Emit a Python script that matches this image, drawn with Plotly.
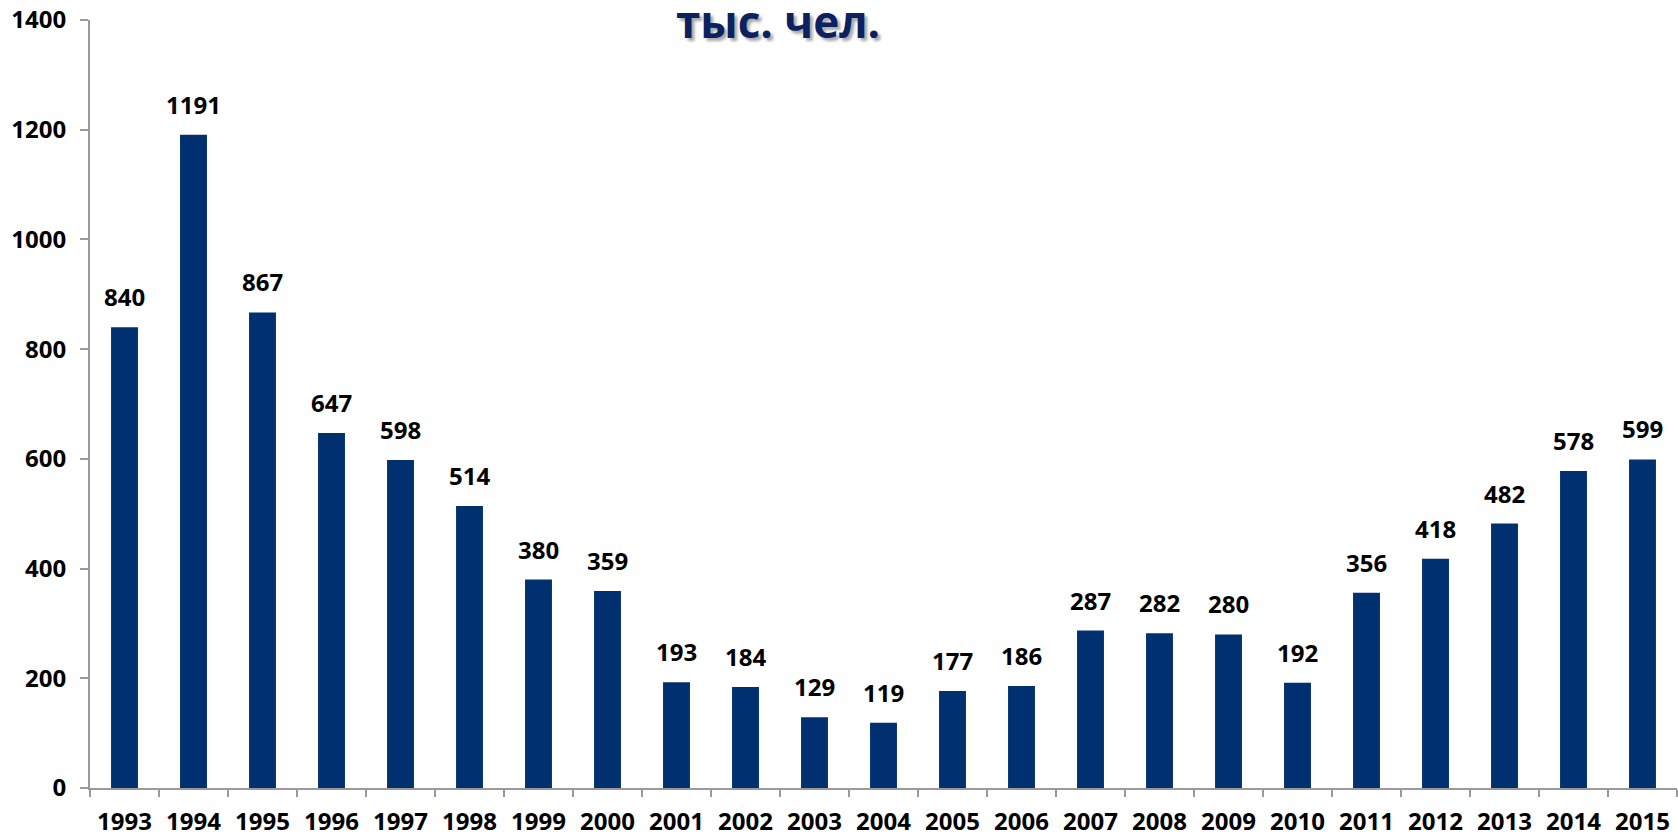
import plotly.graph_objects as go

years = [str(y) for y in range(1993, 2016)]
values = [840, 1191, 867, 647, 598, 514, 380, 359, 193, 184, 129, 119,
          177, 186, 287, 282, 280, 192, 356, 418, 482, 578, 599]
y_ticks = [0, 200, 400, 600, 800, 1000, 1200, 1400]
title_text = "тыс. чел."

BAR = "#003070"
FONT = "Open Sans"
LBL = 24

fig = go.Figure()
fig.add_trace(go.Bar(x=years, y=values, marker=dict(color=BAR, line=dict(width=0)),
                     hoverinfo="skip"))

for i, v in enumerate(values):
    fig.add_annotation(x=i, y=v, text=str(v), showarrow=False, yanchor="bottom",
                       yshift=12, font=dict(family=FONT, size=LBL, weight="bold", color="black"))

fig.add_annotation(xref="paper", yref="paper", x=0.4335, y=0.9987, text=title_text,
                   showarrow=False, xanchor="center", yanchor="middle",
                   font=dict(family=FONT, size=44, weight="bold", color="#0B2160",
                             shadow="3px 3px 3px rgba(0,0,0,0.35)"))

fig.update_layout(
    width=1678, height=834,
    margin=dict(l=90, r=1, t=20, b=46),
    paper_bgcolor="white", plot_bgcolor="white",
    bargap=0.61, showlegend=False,
)
fig.update_xaxes(type="category", range=[-0.5, len(years) - 0.5], tickson="boundaries",
                 ticks="outside", ticklen=7, tickangle=0,
                 tickcolor="#9a9a9a", tickwidth=2, showline=True, linecolor="#9a9a9a",
                 linewidth=2, showgrid=False, automargin=False, ticklabelstandoff=11,
                 tickfont=dict(family=FONT, size=LBL, weight="bold", color="black"))
fig.update_yaxes(range=[0, 1400], tickvals=y_ticks, ticks="outside", ticklen=8,
                 tickcolor="#9a9a9a", tickwidth=2, showline=True, linecolor="#9a9a9a",
                 linewidth=2, showgrid=False, zeroline=False, automargin=False,
                 ticklabelstandoff=9,
                 tickfont=dict(family=FONT, size=LBL, weight="bold", color="black"))

fig.write_html("out.html", config={"displayModeBar": False},
               post_script="document.body.style.margin='0';document.body.style.overflow='hidden';")
